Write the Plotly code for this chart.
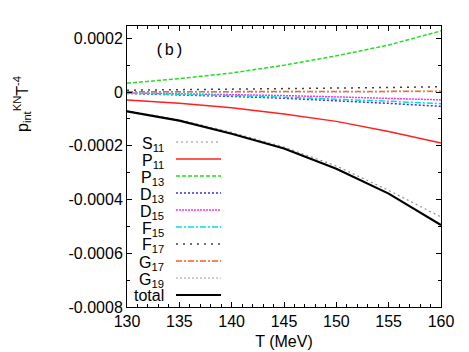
import plotly.graph_objects as go

# temperature grid (MeV)
T = [130, 135, 140, 145, 150, 155, 160]

# partial-wave contributions to p_int^KN / T^4
S11 = [-7.0e-5, -1.03e-4, -1.50e-4, -2.05e-4, -2.75e-4, -3.66e-4, -4.65e-4]
P11 = [-2.9e-5, -4.2e-5, -5.8e-5, -8.2e-5, -1.09e-4, -1.47e-4, -1.90e-4]
P13 = [3.3e-5, 5.0e-5, 7.1e-5, 1.0e-4, 1.35e-4, 1.75e-4, 2.28e-4]
D13 = [-0.5e-5, -1.0e-5, -1.6e-5, -2.3e-5, -3.2e-5, -4.2e-5, -5.3e-5]
D15 = [-0.3e-5, -0.6e-5, -0.9e-5, -1.3e-5, -1.8e-5, -2.3e-5, -2.9e-5]
F15 = [-0.4e-5, -0.8e-5, -1.3e-5, -1.9e-5, -2.6e-5, -3.4e-5, -4.3e-5]
F17 = [0.7e-5, 0.85e-5, 1.0e-5, 1.2e-5, 1.4e-5, 1.7e-5, 2.0e-5]
G17 = [0.1e-5, 0.1e-5, 0.15e-5, 0.15e-5, 0.2e-5, 0.25e-5, 0.3e-5]
G19 = [-0.1e-5, -0.1e-5, -0.05e-5, 0.0, 0.05e-5, 0.1e-5, 0.15e-5]
total = [-7.2e-5, -1.06e-4, -1.55e-4, -2.10e-4, -2.85e-4, -3.78e-4, -4.95e-4]

x_ticks = [130, 135, 140, 145, 150, 155, 160]
y_ticks = [0.0002, 0, -0.0002, -0.0004, -0.0006, -0.0008]
y_ticktext = ['0.0002', '0', '-0.0002', '-0.0004', '-0.0006', '-0.0008']

series = [
    ('S<sub>11</sub>', S11, '#909090', 1.2, '2px,3px'),
    ('P<sub>11</sub>', P11, '#ff2020', 1.5, 'solid'),
    ('P<sub>13</sub>', P13, '#20e020', 1.5, '4px,2px'),
    ('D<sub>13</sub>', D13, '#3030ff', 1.5, '2px,2px'),
    ('D<sub>15</sub>', D15, '#ff30ff', 1.5, '2px,1px'),
    ('F<sub>15</sub>', F15, '#00e0e0', 1.5, '6px,2px,2px,2px'),
    ('F<sub>17</sub>', F17, '#404040', 1.5, '2px,5px'),
    ('G<sub>17</sub>', G17, '#ff5a1e', 1.5, '6px,2px,2px,2px'),
    ('G<sub>19</sub>', G19, '#a0a0a0', 1.2, '2px,2px'),
    ('total', total, '#000000', 2.2, 'solid'),
]

W, H = 469, 352
ML, MR, MT, MB = 119, 36, 18, 53
PW, PH = W - ML - MR, H - MT - MB

fig = go.Figure()
for name, vals, color, width, dash in series:
    fig.add_trace(go.Scatter(
        x=T, y=vals, mode='lines', name=name,
        line=dict(color=color, width=width, dash=dash)
    ))

# gnuplot style key: label on the left, line sample on the right
shapes = []
annotations = []
for i, (name, vals, color, width, dash) in enumerate(series):
    ypx = 134 + i * 17
    yp = (H - MB - ypx) / PH
    shapes.append(dict(
        type='line', xref='paper', yref='paper',
        x0=(168 - ML) / PW, x1=(213 - ML) / PW, y0=yp, y1=yp,
        line=dict(color=color, width=width, dash=dash)
    ))
    annotations.append(dict(
        text=name, xref='paper', yref='paper',
        x=(158 - ML) / PW, y=yp, xanchor='right', yanchor='middle',
        yshift=-2 if 'sub' in name else 0,
        showarrow=False, font=dict(size=16, color='black')
    ))

annotations.append(dict(
    text='(b)', xref='paper', yref='paper',
    x=(145 - ML) / PW, y=(H - MB - 43) / PH, xanchor='left', yanchor='middle',
    showarrow=False, font=dict(size=16, family='Liberation Mono', color='black')
))
annotations.append(dict(
    text='p<sub>int</sub><sup>KN</sup>T<sup>-4</sup>', xref='paper', yref='paper',
    x=(14 - ML) / PW, y=(H - MB - 96) / PH, xanchor='center', yanchor='middle',
    textangle=-90, showarrow=False, font=dict(size=16, color='black')
))

axis_common = dict(
    showline=True, linecolor='black', linewidth=1, mirror='allticks',
    ticks='inside', ticklen=5, tickcolor='black', showgrid=False, zeroline=False,
    tickfont=dict(size=16, color='black')
)

fig.update_layout(
    width=W, height=H,
    margin=dict(l=ML, r=MR, t=MT, b=MB),
    paper_bgcolor='white', plot_bgcolor='white',
    font=dict(family='Liberation Sans, Arial', color='black'),
    showlegend=False,
    xaxis=dict(
        range=[130, 160], tickvals=x_ticks,
        minor=dict(dtick=1, ticks='inside', ticklen=3, tickcolor='black'),
        title=dict(text='T (MeV)', font=dict(size=16), standoff=6),
        **axis_common
    ),
    yaxis=dict(
        range=[-0.0008, 0.000246], tickvals=y_ticks, ticktext=y_ticktext,
        minor=dict(dtick=0.0001, ticks='inside', ticklen=3, tickcolor='black'),
        **axis_common
    ),
    shapes=shapes,
    annotations=annotations,
)

fig.write_html('out.html')
